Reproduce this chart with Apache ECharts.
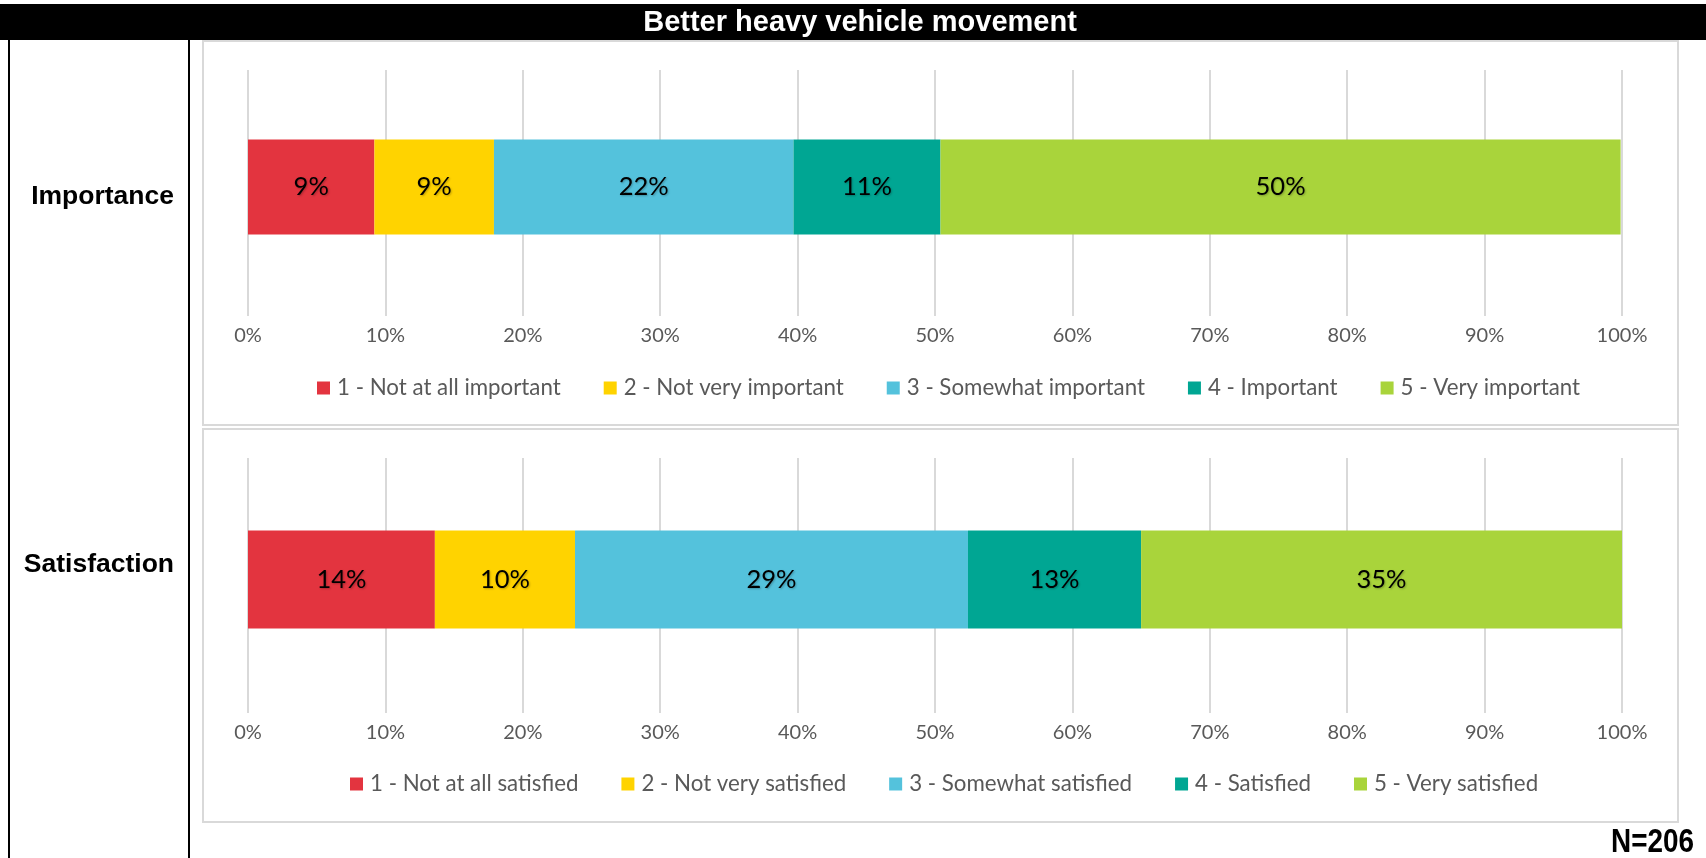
<!DOCTYPE html>
<html>
<head>
<meta charset="utf-8">
<title>Better heavy vehicle movement</title>
<script src="https://cdn.jsdelivr.net/npm/echarts@6/dist/echarts.min.js"></script>
<style>
  html, body { margin: 0; padding: 0; background: #fff; }
  .chart { width: 1706px; height: 858px; }
</style>
</head>
<body>
<div class="chart"></div>
<script>
// data
var chartTitle = 'Better heavy vehicle movement';
var rowLabels = ['Importance', 'Satisfaction'];
var sampleNote = 'N=206';
var importanceNames = ['1 - Not at all important', '2 - Not very important', '3 - Somewhat important', '4 - Important', '5 - Very important'];
var satisfactionNames = ['1 - Not at all satisfied', '2 - Not very satisfied', '3 - Somewhat satisfied', '4 - Satisfied', '5 - Very satisfied'];
var importanceValues = [9.2, 8.7, 21.8, 10.7, 49.5];
var satisfactionValues = [13.6, 10.2, 28.6, 12.6, 35.0];
var xTicks = [0, 10, 20, 30, 40, 50, 60, 70, 80, 90, 100];
var colors = ['#E3343F', '#FFD300', '#54C2DC', '#00A693', '#A9D43B'];

(function() {
  var myChart = echarts.init(document.querySelector('.chart'));
  var bodyFont = 'Lato, "Liberation Sans", sans-serif';
  var gridColor = '#d9d9d9';

  function makeX(idx) {
    return {
      type: 'value',
      gridIndex: idx,
      min: xTicks[0],
      max: xTicks[xTicks.length - 1],
      interval: xTicks[1] - xTicks[0],
      axisLine: { show: false },
      axisTick: { show: true, length: 12, lineStyle: { color: gridColor, width: 2 } },
      splitLine: { show: true, lineStyle: { color: gridColor, width: 2 } },
      axisLabel: {
        margin: 22,
        color: '#595959',
        fontFamily: bodyFont,
        fontSize: 20,
        formatter: '{value}%'
      }
    };
  }
  function makeY(idx, name) {
    return {
      type: 'category',
      gridIndex: idx,
      data: [name],
      axisLine: { show: false },
      axisTick: { show: false },
      axisLabel: { show: false }
    };
  }
  function makeSeries(names, values, idx, barWidth) {
    return names.map(function(n, i) {
      return {
        name: n,
        type: 'bar',
        stack: 'row' + idx,
        xAxisIndex: idx,
        yAxisIndex: idx,
        barWidth: barWidth,
        itemStyle: { color: colors[i] },
        label: {
          show: true,
          position: 'inside',
          color: '#000',
          fontFamily: bodyFont,
          fontSize: 25.5,
          textShadowColor: 'rgba(0,0,0,0.25)',
          textShadowBlur: 2,
          textShadowOffsetX: 1,
          textShadowOffsetY: 1,
          formatter: function(p) { return Math.round(p.value) + '%'; }
        },
        data: [values[i]]
      };
    });
  }
  function makeLegend(names, top, left) {
    return {
      data: names,
      top: top,
      left: left,
      width: 1380,
      padding: 0,
      itemWidth: 13,
      itemHeight: 13,
      itemGap: 43,
      icon: 'rect',
      textStyle: { color: '#595959', fontFamily: bodyFont, fontSize: 22.3, padding: [0, 0, 0, 2] }
    };
  }

  var option = {
    animation: false,
    grid: [
      { left: 248, width: 1374, top: 70, height: 234 },
      { left: 248, width: 1374, top: 458, height: 243 }
    ],
    xAxis: [makeX(0), makeX(1)],
    yAxis: [makeY(0, rowLabels[0]), makeY(1, rowLabels[1])],
    legend: [makeLegend(importanceNames, 377, 317), makeLegend(satisfactionNames, 773, 350)],
    series: makeSeries(importanceNames, importanceValues, 0, 95)
      .concat(makeSeries(satisfactionNames, satisfactionValues, 1, 98)),
    graphic: [
      // title bar
      { type: 'rect', shape: { x: 0, y: 4, width: 1706, height: 36 }, style: { fill: '#000' }, z: 10 },
      { type: 'text', x: 860, y: 23, z: 11,
        style: { text: chartTitle, fill: '#fff', font: 'bold 29px "Liberation Sans", Arial, sans-serif', align: 'center', verticalAlign: 'middle' } },
      // left label column
      { type: 'line', shape: { x1: 9, y1: 40, x2: 9, y2: 858 }, style: { stroke: '#000', lineWidth: 2 } },
      { type: 'line', shape: { x1: 189, y1: 40, x2: 189, y2: 858 }, style: { stroke: '#000', lineWidth: 2 } },
      { type: 'text', x: 174, y: 197,
        style: { text: rowLabels[0], fill: '#000', font: 'bold 26.5px "Liberation Sans", Arial, sans-serif', align: 'right', verticalAlign: 'middle' } },
      { type: 'text', x: 174, y: 565,
        style: { text: rowLabels[1], fill: '#000', font: 'bold 26.5px "Liberation Sans", Arial, sans-serif', align: 'right', verticalAlign: 'middle' } },
      // chart panels
      { type: 'rect', shape: { x: 203, y: 41, width: 1475, height: 384 }, style: { fill: 'none', stroke: gridColor, lineWidth: 2 }, z: -1 },
      { type: 'rect', shape: { x: 203, y: 429, width: 1475, height: 393 }, style: { fill: 'none', stroke: gridColor, lineWidth: 2 }, z: -1 },
      // sample size
      { type: 'text', x: 1694, y: 843, scaleX: 0.82,
        style: { text: sampleNote, fill: '#000', font: 'bold 34px "Liberation Sans", Arial, sans-serif', align: 'right', verticalAlign: 'middle' } }
    ]
  };
  myChart.setOption(option);
  window.addEventListener('resize', function() {
    myChart.resize();
  });
})();
</script>
</body>
</html>
